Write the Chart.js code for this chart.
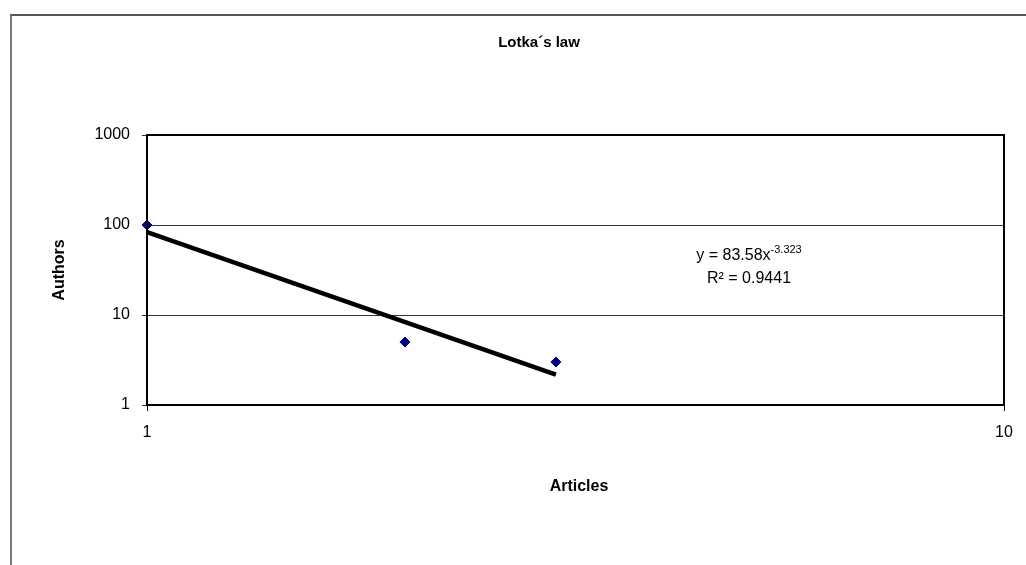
<!DOCTYPE html>
<html>
<head>
<meta charset="utf-8">
<script src="https://cdn.jsdelivr.net/npm/chart.js@4/dist/chart.umd.min.js"></script>
<style>
html,body{margin:0;padding:0;background:#fff;overflow:hidden;}
#wrap{position:relative;width:1026px;height:565px;}
#frame{position:absolute;left:10px;top:14px;width:1030px;height:560px;border-left:2px solid #777;border-top:2px solid #555;}
canvas{position:absolute;left:0;top:0;}
</style>
</head>
<body>
<div id="wrap"><div id="frame"></div><canvas id="c" width="1026" height="565"></canvas></div>
<script>
const articles = [1, 2, 3];
const authors = [100, 5, 3];
const trendX = [1, 3];
const trendY = [83.58, 2.17];
const xTicks = [1, 10];
const yTicks = [1, 10, 100, 1000];
const titleText = 'Lotka\u00b4s law';
const xTitle = 'Articles';
const yTitle = 'Authors';
const eqMain = 'y = 83.58x';
const eqExp = '-3.323';
const eqR2 = 'R\u00b2 = 0.9441';

const FONT = "'Liberation Sans', Arial, sans-serif";

const textPlugin = {
  id: 'texts',
  afterDraw(chart) {
    const ctx = chart.ctx;
    ctx.save();
    ctx.fillStyle = '#000';
    ctx.textBaseline = 'middle';
    ctx.textAlign = 'center';
    ctx.font = 'bold 15px ' + FONT;
    ctx.fillText(titleText, 539, 43);
    ctx.font = 'bold 16px ' + FONT;
    ctx.fillText(xTitle, 579, 487);
    ctx.save();
    ctx.translate(60, 270);
    ctx.rotate(-Math.PI / 2);
    ctx.fillText(yTitle, 0, 0);
    ctx.restore();
    // equation
    ctx.font = '16px ' + FONT;
    const w1 = ctx.measureText(eqMain).width;
    ctx.font = '11px ' + FONT;
    const w2 = ctx.measureText(eqExp).width;
    const startX = 749 - (w1 + w2) / 2;
    ctx.textAlign = 'left';
    ctx.font = '16px ' + FONT;
    ctx.fillText(eqMain, startX, 256);
    ctx.font = '11px ' + FONT;
    ctx.fillText(eqExp, startX + w1, 250);
    ctx.textAlign = 'center';
    ctx.font = '16px ' + FONT;
    ctx.fillText(eqR2, 749, 279);
    ctx.restore();
  }
};

new Chart(document.getElementById('c'), {
  type: 'scatter',
  data: {
    datasets: [
      {
        type: 'line',
        data: trendX.map((x, i) => ({x: x, y: trendY[i]})),
        borderColor: '#000',
        borderWidth: 4.5,
        pointRadius: 0,
        fill: false,
        order: 1
      },
      {
        data: articles.map((x, i) => ({x: x, y: authors[i]})),
        pointStyle: 'rectRot',
        pointRadius: 5,
        backgroundColor: '#000080',
        borderColor: '#000080',
        borderWidth: 1,
        clip: false,
        order: 0
      }
    ]
  },
  options: {
    responsive: false,
    animation: false,
    devicePixelRatio: 1,
    layout: {padding: {left: 0, right: 22, top: 135, bottom: 0}},
    plugins: {legend: {display: false}, tooltip: {enabled: false}, title: {display: false}},
    scales: {
      x: {
        type: 'logarithmic',
        min: 1, max: 10,
        afterBuildTicks(s) { s.ticks = xTicks.map(v => ({value: v})); },
        afterFit(s) { s.height = 160; },
        ticks: {
          color: '#000',
          font: {family: FONT, size: 16},
          padding: 12,
          maxRotation: 0,
          autoSkip: false,
          callback: v => String(v)
        },
        grid: {display: true, drawOnChartArea: false, color: '#000', lineWidth: 1, tickLength: 6},
        border: {display: true, color: '#000', width: 2}
      },
      y: {
        type: 'logarithmic',
        min: 1, max: 1000,
        afterBuildTicks(s) { s.ticks = yTicks.map(v => ({value: v})); },
        afterFit(s) { s.width = 147; },
        ticks: {
          color: '#000',
          font: {family: FONT, size: 16},
          padding: 12,
          autoSkip: false,
          callback: v => String(v)
        },
        grid: {display: true, color: '#333', lineWidth: 1, tickLength: 5},
        border: {display: true, color: '#000', width: 2}
      }
    }
  },
  plugins: [textPlugin, {
    id: 'frameBox',
    afterDatasetsDraw(chart) {
      const a = chart.chartArea, ctx = chart.ctx;
      ctx.save();
      ctx.strokeStyle = '#000';
      ctx.lineWidth = 2;
      ctx.strokeRect(a.left, a.top, a.right - a.left, a.bottom - a.top);
      ctx.restore();
    }
  }]
});
</script>
</body>
</html>
